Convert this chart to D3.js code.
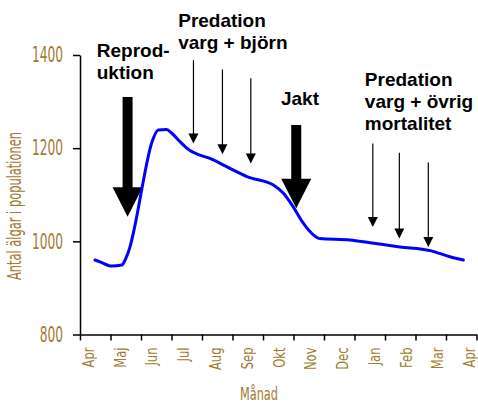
<!DOCTYPE html>
<html>
<head>
<meta charset="utf-8">
<script src="https://cdn.jsdelivr.net/npm/d3@7"></script>
<style>
  body { margin: 0; background: #fff; }
  svg { display: block; }
</style>
</head>
<body>
<div id="chart"></div>
<script>
// month labels, April to April
const months = ["Apr", "Maj", "Jun", "Jul", "Aug", "Sep", "Okt", "Nov", "Dec", "Jan", "Feb", "Mar", "Apr"];
const yTicks = [800, 1000, 1200, 1400];

// population curve (x = months since start of April)
const monthPos = [0.49, 0.66, 1.04, 1.37, 1.48, 1.64, 1.75, 1.86, 2.02, 2.35, 2.57, 2.84, 3.01, 3.28, 3.50,
  4.37, 5.03, 5.47, 6.34, 6.67, 6.99, 7.32, 7.65, 7.87, 8.85, 9.51, 10.49, 11.48, 12.13, 12.57];
const antal = [960, 956, 947, 949, 960, 988, 1018, 1053, 1110, 1211, 1239, 1240, 1232, 1214, 1200,
  1175, 1153, 1139, 1121, 1103, 1074, 1039, 1014, 1006, 1003, 997, 988, 980, 967, 960];

// big arrows (reproduction, hunting)
const bigArrowPos = [1.56, 7.09];
const bigArrowTop = [1310, 1250];
const bigArrowTip = [1053, 1071];

// thin arrows (predation)
const thinArrowPos = [3.72, 4.67, 5.6, 9.6, 10.47, 11.42];
const thinArrowTop = [1389, 1369, 1350, 1210, 1190, 1169];
const thinArrowTip = [1210, 1187, 1167, 1031, 1006, 988];

// annotation texts
const noteLines = [["Reprod-", "uktion"], ["Predation", "varg + björn"], ["Jakt"], ["Predation", "varg + övrig", "mortalitet"]];
const notePos = [0.55, 3.22, 6.59, 9.34];
const noteVal = [1395, 1461, 1293, 1333];

const width = 478, height = 405;
const gold = "#a27a32";
const narrow = "'DejaVu Sans Condensed', 'Liberation Sans Narrow', sans-serif";

const svg = d3.select("#chart").append("svg")
  .attr("width", width)
  .attr("height", height);

const x = d3.scaleLinear().domain([0, 13]).range([80, 476.5]);
const xLabel = d3.scalePoint().domain(d3.range(months.length)).range([88.5, 470]);
const y = d3.scaleLinear().domain([800, 1400]).range([334.5, 55]);

// horizontal squeeze so a text comes out at the width seen in the picture
function squeeze(node, target) {
  return target / node.getComputedTextLength();
}

// x axis
const gx = svg.append("g")
  .attr("transform", "translate(0," + y(800) + ")")
  .call(d3.axisBottom(x).tickValues(d3.range(14)).tickSize(6).tickSizeOuter(0).tickFormat(""));
gx.selectAll("path, line").attr("stroke", "#000").attr("stroke-width", 1.5);

const mLabels = svg.append("g").selectAll("text")
  .data(months)
  .join("text")
    .attr("text-anchor", "end")
    .attr("dy", "0.35em")
    .attr("font-family", narrow)
    .attr("font-size", 15)
    .attr("fill", gold)
    .text(d => d);
const fm = squeeze(mLabels.node(), 20);
mLabels.attr("transform", (d, i) => "translate(" + xLabel(i) + "," + (y(800) + 13) + ") rotate(-90) scale(" + fm + ",1)");

// y axis
const gy = svg.append("g")
  .attr("transform", "translate(" + x(0) + ",0)")
  .call(d3.axisLeft(y).tickValues(yTicks).tickSize(7).tickSizeOuter(0).tickFormat(d3.format("d")));
gy.selectAll("path, line").attr("stroke", "#000").attr("stroke-width", 1.5);
const yLabels = gy.selectAll("text")
  .attr("font-family", narrow)
  .attr("font-size", 21)
  .attr("fill", gold);
const fy = squeeze(yLabels.filter(d => d === 1400).node(), 31);
yLabels.attr("x", -17 / fy).attr("transform", "scale(" + fy + ",1)");

// axis titles
const yTitle = svg.append("text")
  .attr("text-anchor", "middle")
  .attr("font-family", narrow)
  .attr("font-size", 19)
  .attr("fill", gold)
  .text("Antal älgar i populationen");
yTitle.attr("transform", "translate(21,206) rotate(-90) scale(" + squeeze(yTitle.node(), 148) + ",1)");

const xTitle = svg.append("text")
  .attr("text-anchor", "middle")
  .attr("font-family", narrow)
  .attr("font-size", 18)
  .attr("fill", gold)
  .text("Månad");
xTitle.attr("transform", "translate(259,400) scale(" + squeeze(xTitle.node(), 38) + ",1)");

// big arrows
const shaft = 5, head = 15, headLen = 29.5;
svg.append("g").selectAll("path")
  .data(bigArrowPos)
  .join("path")
    .attr("fill", "#000")
    .attr("d", (d, i) => {
      const cx = x(d), top = y(bigArrowTop[i]), tip = y(bigArrowTip[i]), hb = tip - headLen;
      return "M" + (cx - shaft) + "," + top + "H" + (cx + shaft) + "V" + hb + "H" + (cx + head) +
        "L" + cx + "," + tip + "L" + (cx - head) + "," + hb + "H" + (cx - shaft) + "Z";
    });

// thin arrows
const thin = svg.append("g").selectAll("g")
  .data(thinArrowPos)
  .join("g");
thin.append("line")
  .attr("x1", d => x(d)).attr("x2", d => x(d))
  .attr("y1", (d, i) => y(thinArrowTop[i]))
  .attr("y2", (d, i) => y(thinArrowTip[i]) - 8)
  .attr("stroke", "#000")
  .attr("stroke-width", 1.2);
thin.append("path")
  .attr("fill", "#000")
  .attr("d", (d, i) => {
    const cx = x(d), tip = y(thinArrowTip[i]);
    return "M" + (cx - 5) + "," + (tip - 10) + "L" + (cx + 5) + "," + (tip - 10) + "L" + cx + "," + tip + "Z";
  });

// population curve
const line = d3.line()
  .x((d, i) => x(monthPos[i]))
  .y(d => y(d))
  .curve(d3.curveMonotoneX);

svg.append("path")
  .datum(antal)
  .attr("fill", "none")
  .attr("stroke", "#0000ff")
  .attr("stroke-width", 3)
  .attr("stroke-linejoin", "round")
  .attr("stroke-linecap", "round")
  .attr("d", line);

// annotation texts
const notes = svg.append("g").selectAll("text")
  .data(noteLines)
  .join("text")
    .attr("x", (d, i) => x(notePos[i]))
    .attr("y", (d, i) => y(noteVal[i]))
    .attr("font-family", "'Liberation Sans', Arial, sans-serif")
    .attr("font-weight", "bold")
    .attr("font-size", 19)
    .attr("fill", "#000");
notes.selectAll("tspan")
  .data(d => d)
  .join("tspan")
    .attr("x", function () { return this.parentNode.getAttribute("x"); })
    .attr("dy", (d, j) => j === 0 ? 0 : 22)
    .text(d => d);
</script>
</body>
</html>
